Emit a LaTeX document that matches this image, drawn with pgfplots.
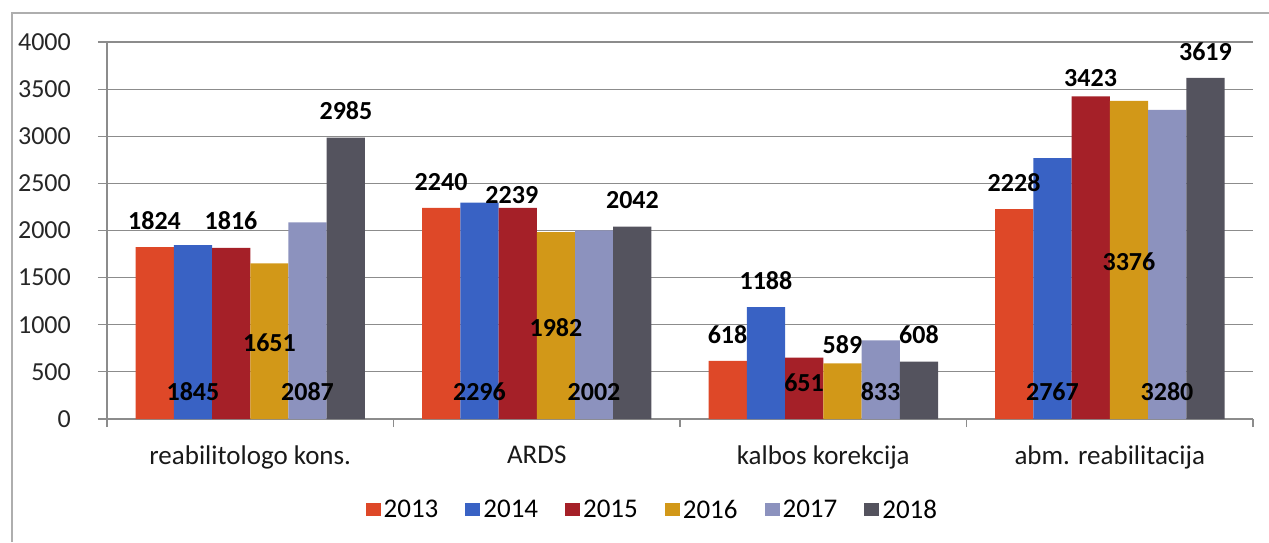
\documentclass[border=0pt]{standalone}
\usepackage{fontspec}
\setmainfont{Carlito}
\usepackage{pgfplots}
\pgfplotsset{compat=1.18}
\definecolor{cA}{RGB}{222,72,40}
\definecolor{cB}{RGB}{57,98,196}
\definecolor{cC}{RGB}{165,32,40}
\definecolor{cD}{RGB}{210,152,24}
\definecolor{cE}{RGB}{140,146,190}
\definecolor{cF}{RGB}{84,83,94}
\definecolor{gridc}{RGB}{140,140,140}
\newcommand{\lab}{\fontsize{26}{30}\selectfont\bfseries}
\begin{document}
\begin{tikzpicture}
\path[use as bounding box] (0,0) rectangle (1269pt,542pt);
\draw[gridc!70, line width=1.2pt] (12pt,0) -- (12pt,529pt) -- (1269pt,529pt);
\begin{axis}[
  at={(107pt,123pt)}, anchor=south west, scale only axis,
  width=1146pt, height=377pt,
  ybar=0pt, bar width=0.1335,
  xmin=-0.5, xmax=3.5, ymin=0, ymax=4000,
  clip=false,
  xtick={0,1,2,3},
  xticklabels={reabilitologo kons., ARDS, kalbos korekcija, abm. reabilitacija},
  minor xtick={-0.5,0.5,1.5,2.5,3.5},
  ytick={0,500,...,4000},
  ymajorgrids,
  major grid style={line width=1.2pt, color=gridc},
  axis x line*=bottom, axis y line*=left,
  axis line style={-, line width=1.2pt, color=gridc},
  tick align=outside, major tick length=9pt, minor tick length=8pt,
  tick style={line width=1.2pt, color=gridc},
  major x tick style={draw=none},
  /pgf/number format/assume math mode=true,
  /pgf/number format/1000 sep={},
  yticklabel style={font=\fontsize{26}{30}\selectfont, text=black!85, inner sep=0pt, anchor=east, xshift=-27pt},
  xticklabel style={font=\fontsize{27}{32}\selectfont, text=black!90, inner sep=0pt, anchor=north, yshift=-18pt},
  legend style={at={(0.475,-0.241)}, anchor=center, draw=none, fill=none,
    legend columns=6, font=\fontsize{27}{32}\selectfont,
    nodes={inner sep=0pt},
    /tikz/every odd column/.append style={column sep=3pt},
    /tikz/every even column/.append style={column sep=27pt}},
  legend image code/.code={\fill[#1] (0pt,-6.5pt) rectangle (15pt,7pt);},
]
\addplot[fill=cA, draw=none] coordinates {(0,1824) (1,2240) (2,618) (3,2228)};
\addplot[fill=cB, draw=none] coordinates {(0,1845) (1,2296) (2,1188) (3,2767)};
\addplot[fill=cC, draw=none] coordinates {(0,1816) (1,2239) (2,651) (3,3423)};
\addplot[fill=cD, draw=none] coordinates {(0,1651) (1,1982) (2,589) (3,3376)};
\addplot[fill=cE, draw=none] coordinates {(0,2087) (1,2002) (2,833) (3,3280)};
\addplot[fill=cF, draw=none] coordinates {(0,2985) (1,2042) (2,608) (3,3619)};
\legend{2013,2014,2015,2016,2017,2018}
% group 1
\node[font=\lab] at (axis cs:-0.334,2101) {1824};
\node[font=\lab] at (axis cs:-0.200,286) {1845};
\node[font=\lab] at (axis cs:-0.067,2101) {1816};
\node[font=\lab] at (axis cs:0.067,806) {1651};
\node[font=\lab] at (axis cs:0.200,286) {2087};
\node[font=\lab] at (axis cs:0.334,3268) {2985};
% group 2
\node[font=\lab] at (axis cs:0.666,2515) {2240};
\node[font=\lab] at (axis cs:0.800,286) {2296};
\node[font=\lab] at (axis cs:0.913,2377) {2239};
\node[font=\lab] at (axis cs:1.067,966) {1982};
\node[font=\lab] at (axis cs:1.200,286) {2002};
\node[font=\lab] at (axis cs:1.334,2324) {2042};
% group 3
\node[font=\lab] at (axis cs:1.666,891) {618};
\node[font=\lab] at (axis cs:1.800,1464) {1188};
\node[font=\lab] at (axis cs:1.933,382) {651};
\node[font=\lab] at (axis cs:2.067,785) {589};
\node[font=\lab] at (axis cs:2.200,286) {833};
\node[font=\lab] at (axis cs:2.334,891) {608};
% group 4
\node[font=\lab] at (axis cs:2.666,2504) {2228};
\node[font=\lab] at (axis cs:2.800,286) {2767};
\node[font=\lab] at (axis cs:2.933,3618) {3423};
\node[font=\lab] at (axis cs:3.067,1666) {3376};
\node[font=\lab] at (axis cs:3.200,286) {3280};
\node[font=\lab] at (axis cs:3.334,3894) {3619};
\end{axis}
\end{tikzpicture}
\end{document}
